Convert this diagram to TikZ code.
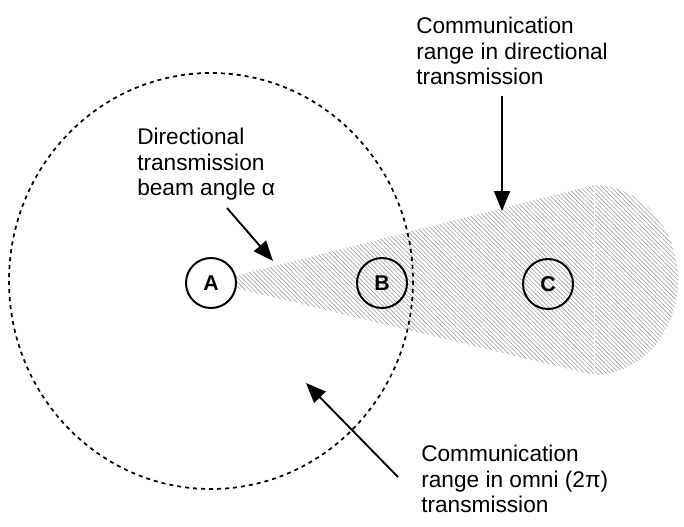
\documentclass[tikz,border=0pt]{standalone}
\usepackage{fontspec}
\setmainfont{Liberation Sans}
\usetikzlibrary{arrows.meta,patterns.meta}
\begin{document}
\begin{tikzpicture}[x=0.75pt,y=-0.75pt,
  station/.style={circle,draw,line width=1.5pt,minimum size=37.5pt,inner sep=0pt,
    font=\fontsize{16}{18}\selectfont\bfseries},
  note/.style={align=left,anchor=north west,inner sep=0pt,
    font=\fontsize{17}{19.2}\selectfont},
  pointer/.style={line width=1.4pt,-{Triangle[length=15pt,width=12pt]}},
  omni/.style={dash pattern=on 3pt off 3pt,line width=1.3pt},
  beam/.style={pattern={Lines[angle=-45,distance=2.3pt,line width=0.45pt]},pattern color=gray!75}]
\useasboundingbox (0,0) rectangle (684,526);
% directional beam
\fill[beam] (211,282) -- (594,185) arc[x radius=84,y radius=95,start angle=-90,end angle=90] -- (594,375) -- cycle;
\draw[white,line width=0.4pt] (594,185) -- (594,375);
% omni range
\draw[omni] (211,281) ellipse[x radius=202,y radius=208];
% stations
\node[station,fill=white] (A) at (211,283) {A};
\node[station] (B) at (382,283) {B};
\node[station] (C) at (548,284) {C};
% notes
\node[note] (n1) at (137,128) {Directional\\transmission\\beam angle α};
\node[note] (n2) at (416,17) {Communication\\range in directional\\transmission};
\node[note] (n3) at (421,445) {Communication\\range in omni (2π)\\transmission};
% pointers
\coordinate (s1) at (227,208);
\coordinate (t1) at (273,261);
\coordinate (s2) at (502,96);
\coordinate (t2) at (502,211);
\coordinate (s3) at (398,477);
\coordinate (t3) at (306,383);
\draw[pointer] (s1) -- (t1);
\draw[pointer] (s2) -- (t2);
\draw[pointer] (s3) -- (t3);
\end{tikzpicture}
\end{document}
